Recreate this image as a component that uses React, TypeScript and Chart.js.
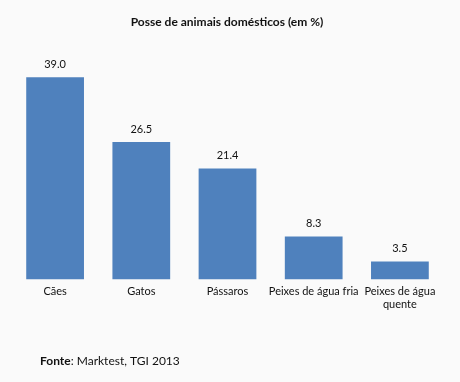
import React, { useEffect, useRef } from "react";
import { Chart, registerables } from "chart.js";

Chart.register(...registerables);

const categories: (string | string[])[] = ["Cães", "Gatos", "Pássaros", "Peixes de água fria", ["Peixes de água", "quente"]];
const values = [39.0, 26.5, 21.4, 8.3, 3.5];
const title = "Posse de animais domésticos (em %)";
const sourceLabel = "Fonte";
const sourceText = ": Marktest, TGI 2013";

const FONT = "Lato, 'Open Sans', sans-serif";

const overlayPlugin = {
  id: "overlay",
  beforeDraw(chart: any) {
    const ctx = chart.ctx;
    ctx.save();
    ctx.fillStyle = "#FAFAFA";
    ctx.fillRect(0, 0, chart.width, chart.height);
    ctx.restore();
  },
  afterDraw(chart: any) {
    const ctx = chart.ctx;
    ctx.save();
    ctx.fillStyle = "#111";
    ctx.textBaseline = "middle";
    ctx.textAlign = "center";
    ctx.font = `bold 12px ${FONT}`;
    ctx.fillText(title, 227, 22);

    const meta = chart.getDatasetMeta(0);
    ctx.font = `11px ${FONT}`;
    meta.data.forEach((bar: any, i: number) => {
      ctx.fillText(values[i].toFixed(1), bar.x, bar.y - 13);
    });

    ctx.textAlign = "left";
    ctx.font = `bold 12px ${FONT}`;
    ctx.fillText(sourceLabel, 40, 361);
    const w = ctx.measureText(sourceLabel).width;
    ctx.font = `12px ${FONT}`;
    ctx.fillText(sourceText, 40 + w, 361);
    ctx.restore();
  },
};

export default function App() {
  const ref = useRef<HTMLCanvasElement>(null);
  useEffect(() => {
    const chart = new Chart(ref.current!, {
      type: "bar",
      data: {
        labels: categories,
        datasets: [
          {
            data: values,
            backgroundColor: "#4F81BD",
            categoryPercentage: 0.67,
            barPercentage: 1,
          },
        ],
      },
      options: {
        animation: false,
        responsive: false,
        layout: { padding: { left: 12, right: 17, top: 46, bottom: 66 } },
        plugins: { legend: { display: false }, tooltip: { enabled: false } },
        scales: {
          x: {
            grid: { display: false, drawTicks: false },
            border: { display: false },
            ticks: {
              color: "#111",
              font: { family: FONT, size: 11 },
              padding: 5,
              maxRotation: 0,
              autoSkip: false,
            },
          },
          y: {
            display: false,
            min: 0,
            max: 45,
          },
        },
      },
      plugins: [overlayPlugin],
    });
    return () => chart.destroy();
  }, []);
  return (
    <canvas
      ref={ref}
      width={460}
      height={382}
      style={{ position: "absolute", left: 0, top: 0, width: 460, height: 382 }}
    />
  );
}
